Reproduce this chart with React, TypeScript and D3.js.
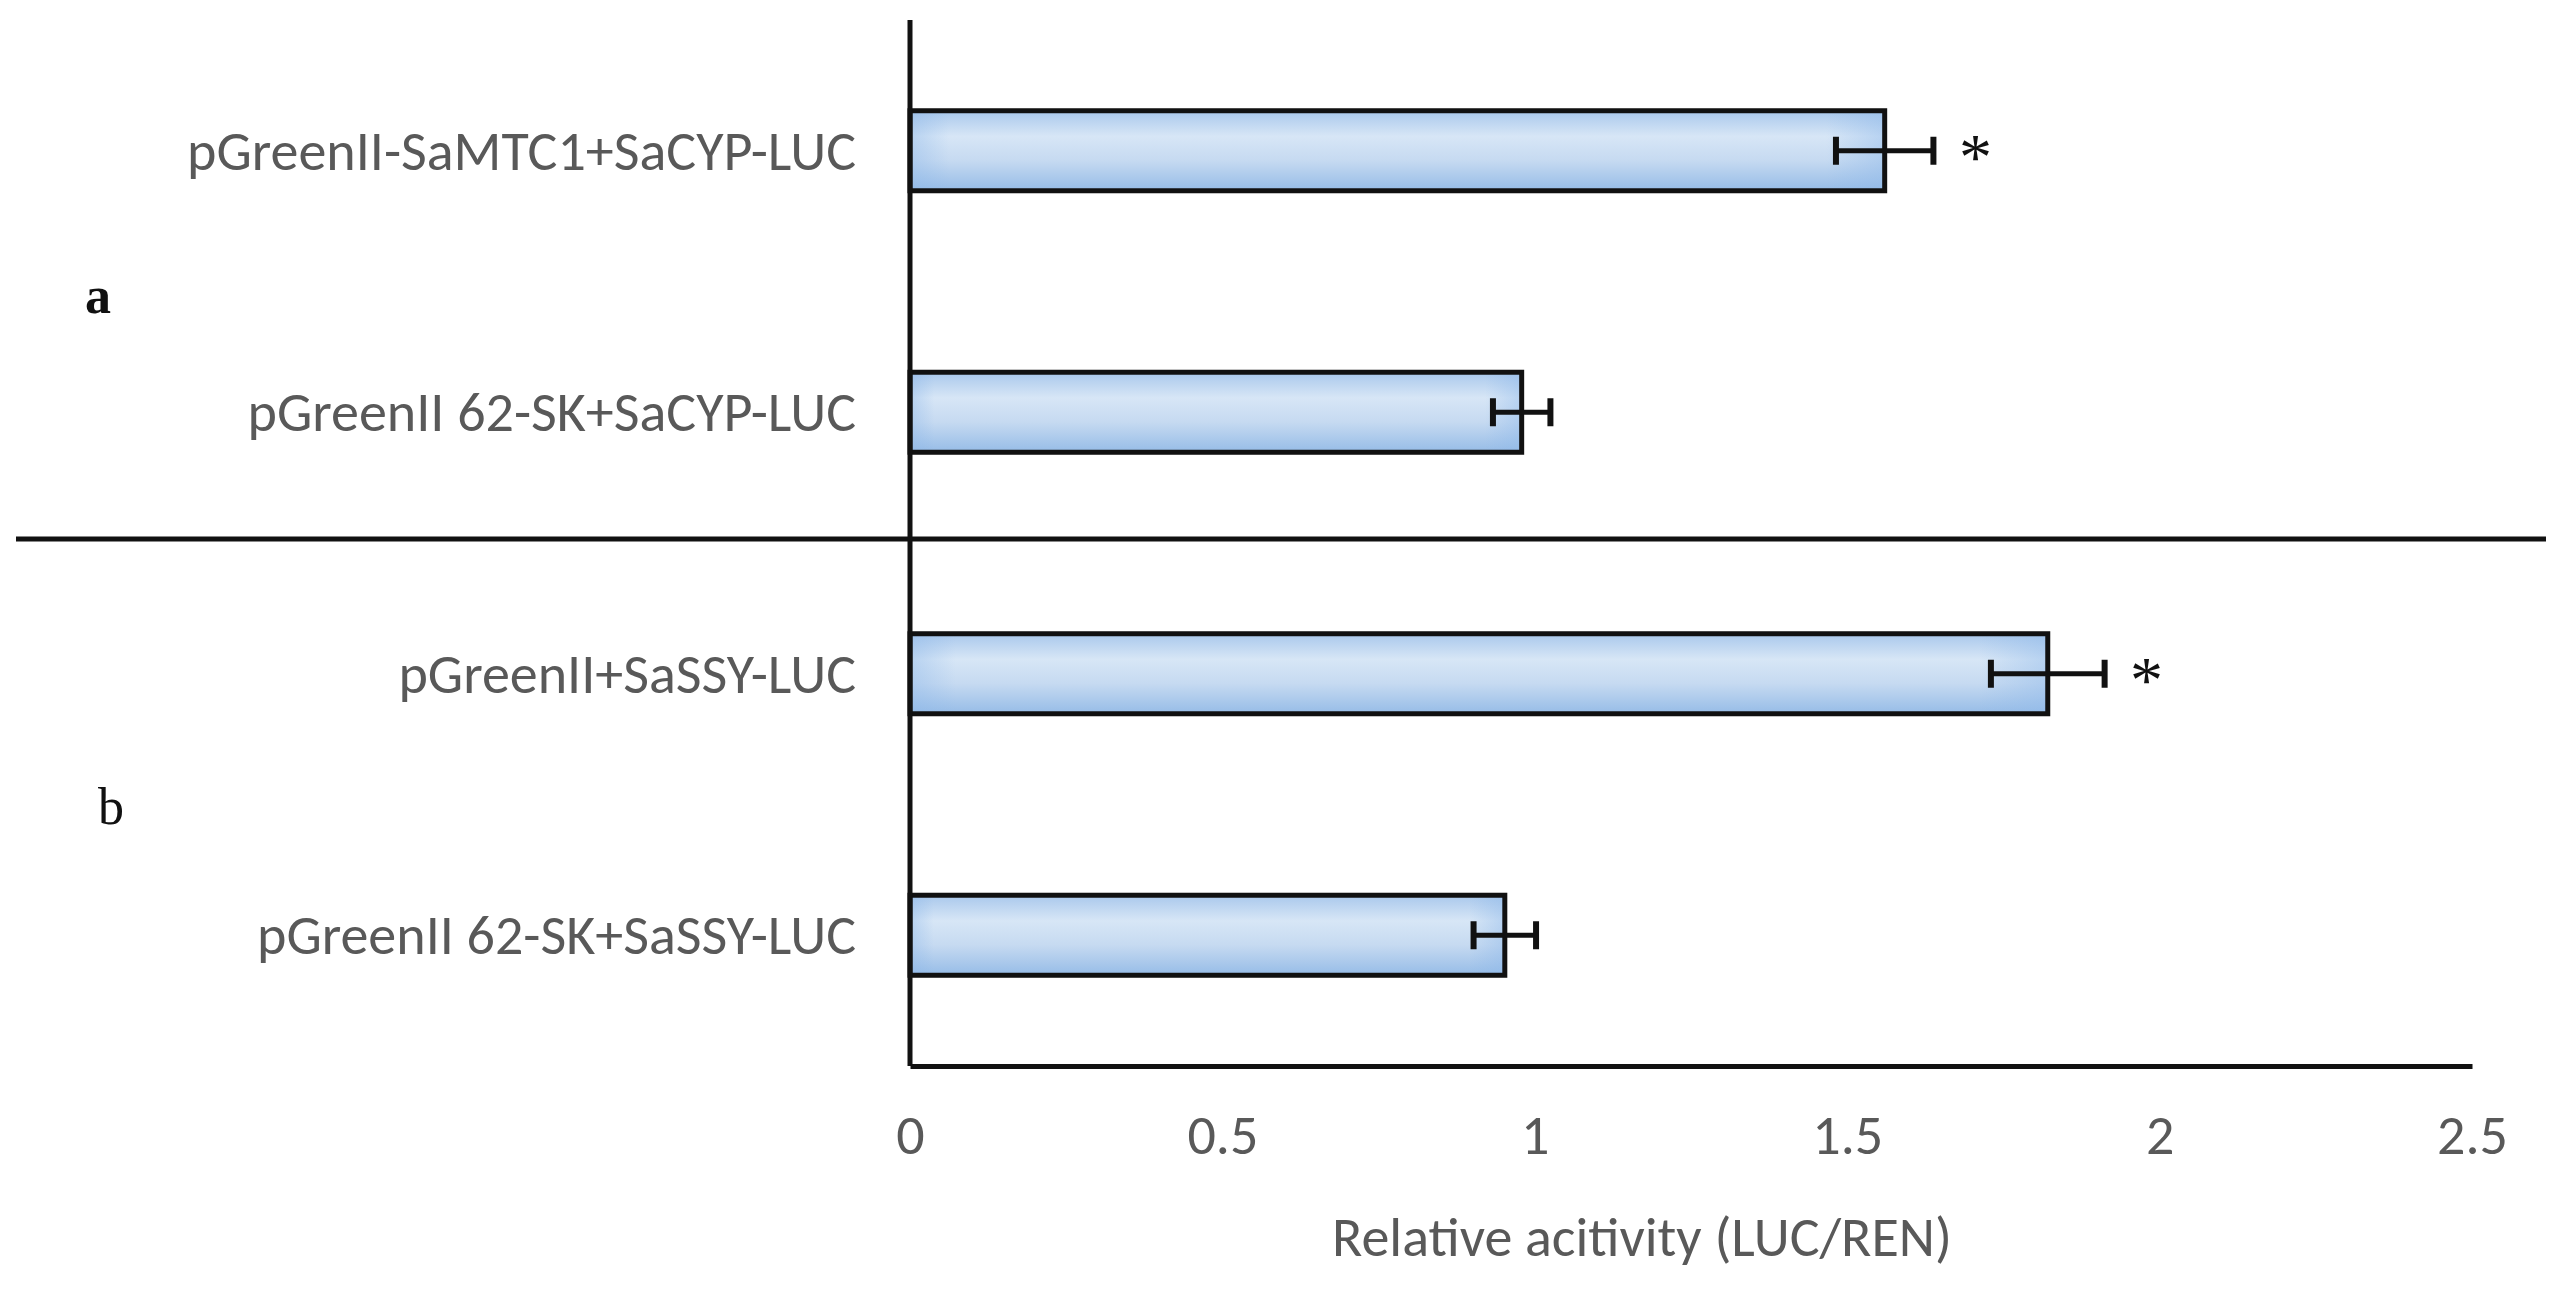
import { useEffect, useRef } from 'react';
import * as d3 from 'd3';

// constructs, top to bottom
const constructs = [
  'pGreenII-SaMTC1+SaCYP-LUC',
  'pGreenII 62-SK+SaCYP-LUC',
  'pGreenII+SaSSY-LUC',
  'pGreenII 62-SK+SaSSY-LUC',
];
const activity = [1.56, 0.979, 1.821, 0.952];
const errors = [0.078, 0.046, 0.091, 0.05];
const significant = [true, false, true, false];

const groupLabels = ['a', 'b'];
const groupMembers = [
  [0, 1],
  [2, 3],
];

const xTicks = [0, 0.5, 1, 1.5, 2, 2.5];
const xTitle = 'Relative acitivity (LUC/REN)';

const W = 2562;
const H = 1314;
const sansFont = "Carlito, Calibri, 'Liberation Sans Narrow', 'Open Sans', sans-serif";
const serifFont = "'Liberation Serif', 'Times New Roman', serif";

export default function App() {
  const svgRef = useRef<SVGSVGElement>(null);

  useEffect(() => {
    if (!svgRef.current) return;
    document.body.style.margin = '0';

    const svg = d3.select(svgRef.current);
    svg.selectAll('*').remove();

    const left = 910;
    const right = 2472;
    const top = 20;
    const bottom = 1066;

    const x = d3.scaleLinear().domain([0, 2.5]).range([left, right]);
    const y = d3
      .scaleBand<string>()
      .domain(constructs)
      .range([top, bottom])
      .paddingInner(0.694)
      .paddingOuter(0.347);

    // bar fill
    const defs = svg.append('defs');
    const grad = defs
      .append('linearGradient')
      .attr('id', 'barFill')
      .attr('x1', 0)
      .attr('y1', 0)
      .attr('x2', 0)
      .attr('y2', 1);
    [
      ['0%', '#a9c8ec'],
      ['32%', '#d7e6f6'],
      ['62%', '#c6daf1'],
      ['100%', '#96bce7'],
    ].forEach(([o, c]) => grad.append('stop').attr('offset', o).attr('stop-color', c));

    const edge = defs
      .append('linearGradient')
      .attr('id', 'barEdge')
      .attr('x1', 0)
      .attr('y1', 0)
      .attr('x2', 1)
      .attr('y2', 0);
    [
      ['0%', 0.45],
      ['4%', 0],
      ['94%', 0],
      ['100%', 0.45],
    ].forEach(([o, a]) =>
      edge
        .append('stop')
        .attr('offset', o as string)
        .attr('stop-color', '#8fb9ea')
        .attr('stop-opacity', a as number)
    );

    const rows = constructs.map((c, i) => ({
      name: c,
      value: activity[i],
      err: errors[i],
      star: significant[i],
    }));

    // bars
    svg
      .append('g')
      .selectAll('rect')
      .data(rows)
      .enter()
      .append('rect')
      .attr('x', x(0))
      .attr('y', (d) => y(d.name)!)
      .attr('width', (d) => x(d.value) - x(0))
      .attr('height', y.bandwidth())
      .attr('fill', 'url(#barFill)');

    svg
      .append('g')
      .selectAll('rect')
      .data(rows)
      .enter()
      .append('rect')
      .attr('x', x(0))
      .attr('y', (d) => y(d.name)!)
      .attr('width', (d) => x(d.value) - x(0))
      .attr('height', y.bandwidth())
      .attr('fill', 'url(#barEdge)')
      .attr('stroke', '#111')
      .attr('stroke-width', 5);

    // error bars
    const eb = svg
      .append('g')
      .attr('stroke', '#111')
      .selectAll('g')
      .data(rows)
      .enter()
      .append('g');
    const cy = (d: { name: string }) => y(d.name)! + y.bandwidth() / 2;
    eb.append('line')
      .attr('x1', (d) => x(d.value - d.err))
      .attr('x2', (d) => x(d.value + d.err))
      .attr('y1', cy)
      .attr('y2', cy)
      .attr('stroke-width', 5);
    [-1, 1].forEach((s) =>
      eb
        .append('line')
        .attr('x1', (d) => x(d.value + s * d.err))
        .attr('x2', (d) => x(d.value + s * d.err))
        .attr('y1', (d) => cy(d) - 14)
        .attr('y2', (d) => cy(d) + 14)
        .attr('stroke-width', 6)
    );

    // significance marks
    svg
      .append('g')
      .selectAll('text')
      .data(rows.filter((d) => d.star))
      .enter()
      .append('text')
      .attr('x', (d) => x(d.value + d.err) + 42)
      .attr('y', (d) => cy(d) + 28)
      .attr('text-anchor', 'middle')
      .attr('font-family', serifFont)
      .attr('font-size', 66)
      .attr('fill', '#111')
      .text('*');

    // category labels
    svg
      .append('g')
      .selectAll('text')
      .data(rows)
      .enter()
      .append('text')
      .attr('x', 856)
      .attr('y', cy)
      .attr('dy', '0.34em')
      .attr('text-anchor', 'end')
      .attr('font-family', sansFont)
      .attr('font-size', 56)
      .attr('fill', '#595959')
      .text((d) => d.name);

    // group labels + separator
    const groupX = [98, 111];
    const groupNudge = [16, 4];
    groupLabels.forEach((g, gi) => {
      const ids = groupMembers[gi];
      const mid = (cy(rows[ids[0]]) + cy(rows[ids[ids.length - 1]])) / 2;
      svg
        .append('text')
        .attr('x', groupX[gi])
        .attr('y', mid + groupNudge[gi])
        .attr('dy', '0.3em')
        .attr('text-anchor', 'middle')
        .attr('font-family', serifFont)
        .attr('font-size', 52)
        .attr('font-weight', gi === 0 ? 'bold' : 'normal')
        .attr('fill', '#111')
        .text(g);
    });
    const sepY = (y(constructs[1])! + y.bandwidth() + y(constructs[2])!) / 2 - 4;
    svg
      .append('line')
      .attr('x1', 16)
      .attr('x2', 2546)
      .attr('y1', sepY)
      .attr('y2', sepY)
      .attr('stroke', '#111')
      .attr('stroke-width', 5);

    // axes
    svg
      .append('line')
      .attr('x1', x(0))
      .attr('x2', x(0))
      .attr('y1', top)
      .attr('y2', bottom)
      .attr('stroke', '#111')
      .attr('stroke-width', 5);

    const xAxis = svg
      .append('g')
      .attr('transform', `translate(0,${bottom})`)
      .call(
        d3
          .axisBottom(x)
          .tickValues(xTicks)
          .tickSize(0)
          .tickPadding(48)
          .tickFormat((d) => String(d))
      );
    xAxis.select('.domain').attr('stroke', '#111').attr('stroke-width', 5);
    xAxis
      .selectAll('text')
      .attr('font-family', sansFont)
      .attr('font-size', 56)
      .attr('fill', '#595959');

    svg
      .append('text')
      .attr('x', 1642)
      .attr('y', 1256)
      .attr('text-anchor', 'middle')
      .attr('font-family', sansFont)
      .attr('font-size', 56)
      .attr('fill', '#595959')
      .text(xTitle);
  }, []);

  return (
    <svg
      ref={svgRef}
      width={W}
      height={H}
      viewBox={`0 0 ${W} ${H}`}
      style={{ display: 'block', background: '#fff' }}
    />
  );
}
